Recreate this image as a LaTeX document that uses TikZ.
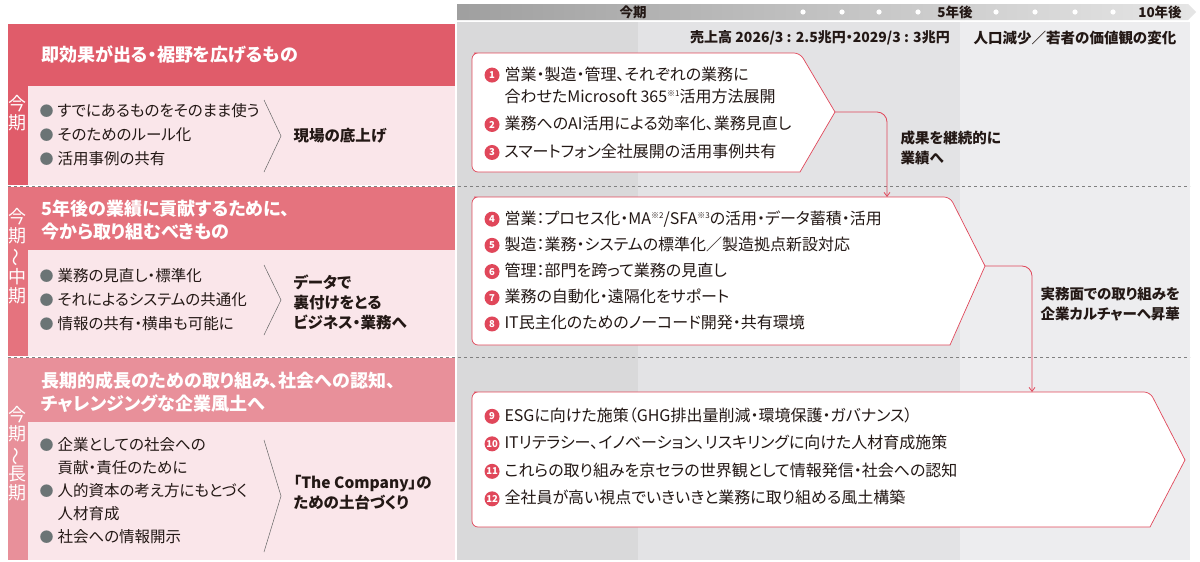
\documentclass[tikz,border=0pt]{standalone}
\usepackage{fontspec}
\setmainfont{Noto Sans CJK JP}[RawFeature=+palt]
\usetikzlibrary{arrows.meta}
\definecolor{hA}{HTML}{E05C6A}
\definecolor{hB}{HTML}{E5737E}
\definecolor{hC}{HTML}{E8909A}
\definecolor{body}{HTML}{FAE6EA}
\definecolor{gA}{HTML}{D9D9DA}
\definecolor{gB}{HTML}{E3E3E5}
\definecolor{gC}{HTML}{EDEDEF}
\definecolor{rl}{HTML}{E0475A}
\definecolor{tx}{HTML}{231815}
\definecolor{bul}{HTML}{6B7475}
\tikzset{
 hd/.style={anchor=west,text=white,font=\bfseries\fontsize{18}{23}\selectfont,align=left},
 bl/.style={anchor=west,text=tx,font=\fontsize{15.5}{24}\selectfont,align=left},
 rt/.style={anchor=west,text=tx,font=\bfseries\fontsize{15.5}{20}\selectfont,align=left},
 it/.style={anchor=west,text=tx,font=\fontsize{16}{22}\selectfont,align=left},
 vl/.style={text=white,font=\fontsize{18}{19}\selectfont,align=center},
 pbox/.style={draw=rl,fill=white,line width=0.7pt,rounded corners=6pt},
 conn/.style={draw=rl,line width=0.8pt,rounded corners=10pt,-{Straight Barb[length=4pt,width=6pt]}},
 dl/.style={draw=gray,dashed,line width=0.6pt}
}
\newcommand{\bu}{\textcolor{bul}{\raisebox{0.5pt}{\fontsize{14}{14}\selectfont●}}\hspace{4pt}}
\newcommand{\num}[1]{\tikz[baseline=-5pt]\node[circle,fill=rl,text=white,inner sep=0pt,minimum size=15pt,font=\bfseries\fontsize{9.5}{9.5}\selectfont]{#1};\hspace{5pt}}
\newcommand{\vt}{\rotatebox[origin=c]{90}{〜}}
\newcommand{\sups}[1]{{\fontsize{8}{8}\selectfont\raisebox{5.5pt}{#1}}}
\begin{document}
\begin{tikzpicture}[x=1pt,y=-1pt]
\useasboundingbox (0,0) rectangle (1200,562);
\fill[white] (0,0) rectangle (1200,562);
\fill[gA] (457,22) rectangle (638,560);
\fill[gB] (638,22) rectangle (960,560);
\fill[gC] (960,22) rectangle (1190,560);
\shade[left color=gray!75,right color=gray!20] (457,4) -- (1188,4) -- (1196,12) -- (1188,20) -- (457,20) -- cycle;
\node[font=\bfseries\fontsize{13.5}{12}\selectfont,text=tx] (tq) at (633,12) {今期};
\node[font=\bfseries\fontsize{13.5}{12}\selectfont,text=tx] (t5) at (955,12) {5年後};
\node[font=\bfseries\fontsize{13.5}{12}\selectfont,text=tx] (t10) at (1160,12) {10年後};
\foreach \x in {803,842,879,918,996,1035,1075,1113} \fill[white] (\x,12) circle (2.6);
\node[font=\bfseries\fontsize{14}{13}\selectfont,text=tx] (sales) at (820,38) {売上高 2026/3 : 2.5兆円・2029/3 : 3兆円};
\node[font=\bfseries\fontsize{14.5}{13}\selectfont,text=tx] (pop) at (1075,38) {人口減少／若者の価値観の変化};
% left panel
\fill[hA] (8,24) rectangle (455,86);
\fill[body] (28,86) rectangle (455,185);
\fill[hA] (8,86) rectangle (28,185);
\fill[hB] (8,187) rectangle (455,250);
\fill[body] (28,250) rectangle (455,356);
\fill[hB] (8,250) rectangle (28,356);
\fill[hC] (8,358) rectangle (455,422);
\fill[body] (28,422) rectangle (455,560);
\fill[hC] (8,422) rectangle (28,560);
\draw[dl] (8,186) -- (1190,186);
\draw[dl] (8,357) -- (1190,357);
\node[vl] (v1) at (18,113) {今\\期};
\node[vl] (v2) at (18,256) {今\\期\\[1pt]\vt\\[1pt]中\\期};
\node[vl] (v3) at (18,454) {今\\期\\[1pt]\vt\\[1pt]長\\期};
% section 1
\node[hd] (h1) at (38,55) {即効果が出る・裾野を広げるもの};
\node[bl] (b1) at (36,135) {\bu すでにあるものをそのまま使う\\\bu そのためのルール化\\\bu 活用事例の共有};
\draw[gray!80!black,line width=0.5pt] (264,100) -- (281,136) -- (264,172);
\node[rt] (r1) at (290,136) {現場の底上げ};
% section 2
\node[hd] (h2) at (38,220) {5年後の業績に貢献するために、\\今から取り組むべきもの};
\node[bl] (b2) at (36,300) {\bu 業務の見直し・標準化\\\bu それによるシステムの共通化\\\bu 情報の共有・横串も可能に};
\draw[gray!80!black,line width=0.5pt] (264,265) -- (281,300) -- (264,335);
\node[rt] (r2) at (290,302) {データで\\裏付けをとる\\ビジネス・業務へ};
% section 3
\node[hd] (h3) at (38,392) {長期的成長のための取り組み、社会への認知、\\チャレンジングな企業風土へ};
\node[bl,font=\fontsize{15.5}{23}\selectfont] (b3) at (36,491) {\bu 企業としての社会への\\\hspace{18pt}貢献・責任のために\\\bu 人的資本の考え方にもとづく\\\hspace{18pt}人材育成\\\bu 社会への情報開示};
\draw[gray!80!black,line width=0.5pt] (264,440) -- (281,496) -- (264,552);
\node[rt] (r3) at (290,493) {「The Company」の\\ための土台づくり};
% boxes
\draw[pbox] (480,53) -- (800,53) [sharp corners]-- (835,112) -- (800,172) [rounded corners=6pt]-- (472,172) -- (472,53) -- cycle;
\coordinate (p1) at (835,112);
\draw[pbox] (480,197) -- (950,197) [sharp corners]-- (985,266) -- (950,345) [rounded corners=6pt]-- (472,345) -- (472,197) -- cycle;
\coordinate (p2) at (985,266);
\coordinate (q2) at (887,197);
\draw[pbox] (480,392) -- (1150,392) [sharp corners]-- (1185,460) -- (1150,527) [rounded corners=6pt]-- (472,527) -- (472,392) -- cycle;
\coordinate (p3) at (1185,460);
\coordinate (q3) at (1032,392);
% items
\node[it] (i1) at (481,85) {\num{1}営業・製造・管理、それぞれの業務に\\\hspace{20pt}合わせたMicrosoft 365\sups{※1}活用方法展開};
\node[it] (i2) at (481,124) {\num{2}業務へのAI活用による効率化、業務見直し};
\node[it] (i3) at (481,152) {\num{3}スマートフォン全社展開の活用事例共有};
\node[it,font=\fontsize{16}{26.2}\selectfont] (i4) at (481,271) {\num{4}営業：プロセス化・MA\sups{※2}/SFA\sups{※3}の活用・データ蓄積・活用\\\num{5}製造：業務・システムの標準化／製造拠点新設対応\\\num{6}管理：部門を跨って業務の見直し\\\num{7}業務の自動化・遠隔化をサポート\\\num{8}IT民主化のためのノーコード開発・共有環境};
\node[it,font=\fontsize{16}{27.5}\selectfont] (i9) at (481,457) {\num{9}ESGに向けた施策（GHG排出量削減・環境保護・ガバナンス）\\\num{10}ITリテラシー、イノベーション、リスキリングに向けた人材育成施策\\\num{11}これらの取り組みを京セラの世界観として情報発信・社会への認知\\\num{12}全社員が高い視点でいきいきと業務に取り組める風土構築};
% connectors
\draw[conn] (p1) -- (887,112) -- (q2);
\draw[conn] (p2) -- (1032,266) -- (q3);
\node[rt,font=\bfseries\fontsize{14.5}{20}\selectfont] (l1) at (897,148) {成果を継続的に\\業績へ};
\node[rt,font=\bfseries\fontsize{14.5}{20}\selectfont] (l2) at (1037,304) {実務面での取り組みを\\企業カルチャーへ昇華};
\end{tikzpicture}
\end{document}
